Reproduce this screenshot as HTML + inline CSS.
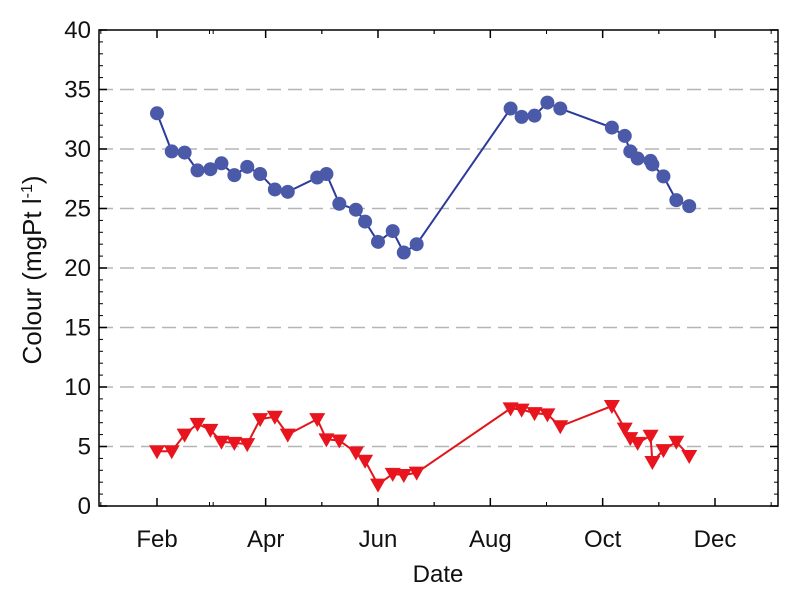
<!DOCTYPE html>
<html><head><meta charset="utf-8"><style>
body{margin:0;background:#fff;}
svg text{font-family:"Liberation Sans",Arial,sans-serif;fill:#111;}
</style></head><body>
<svg id="chart" width="801" height="600">
<g id="grid"></g><g id="axes"></g><g id="series"></g>
</svg>
<script>
const dates=[32,40,47,54,61,67,74,81,88,96,103,119,124,131,140,145,152,160,166,173,224,230,237,244,251,279,286,289,293,300,301,307,314,321];
const blueValues=[33.0,29.8,29.7,28.2,28.3,28.8,27.8,28.5,27.9,26.6,26.4,27.6,27.9,25.4,24.9,23.9,22.2,23.1,21.3,22.0,33.4,32.7,32.8,33.9,33.4,31.8,31.1,29.8,29.2,29.0,28.7,27.7,25.7,25.2];
const redValues=[4.6,4.6,6.0,6.9,6.4,5.4,5.3,5.2,7.3,7.5,6.0,7.3,5.6,5.5,4.5,3.8,1.8,2.7,2.6,2.8,8.2,8.1,7.8,7.7,6.7,8.4,6.5,5.7,5.3,5.9,3.7,4.7,5.4,4.2];
const monthLabels=["Feb","Apr","Jun","Aug","Oct","Dec"];
const monthDays=[32,91,152,213,274,335];
const yTicks=[0,5,10,15,20,25,30,35,40];

const L=99,R=778,T=30,B=506;
const X=d=>157+(d-32)*558/303;
const Y=v=>B-(v/40)*(B-T);
const NS="http://www.w3.org/2000/svg";
function mk(tag,attrs,parent){const e=document.createElementNS(NS,tag);for(const k in attrs)e.setAttribute(k,attrs[k]);parent.appendChild(e);return e;}
const grid=document.getElementById('grid'),axes=document.getElementById('axes'),series=document.getElementById('series');

yTicks.forEach(v=>{
  if(v>0&&v<40){const g=mk('line',{x1:L,x2:R,y1:Y(v),y2:Y(v),stroke:'#b5b5b5','stroke-width':1.5,'stroke-dasharray':'14,7'},grid);
  
  }
  const t=mk('text',{x:L-8,y:Y(v)+8,'text-anchor':'end','font-size':24},axes);t.textContent=v;
  
  
  mk('line',{x1:L,x2:L+8,y1:Y(v),y2:Y(v),stroke:'#000','stroke-width':1.5},axes);
  mk('line',{x1:R,x2:R-8,y1:Y(v),y2:Y(v),stroke:'#000','stroke-width':1.5},axes);
});
for(let v=0;v<=40;v++){ if(v%5===0)continue;
  mk('line',{x1:L,x2:L+4,y1:Y(v),y2:Y(v),stroke:'#000','stroke-width':1},axes);
  mk('line',{x1:R,x2:R-4,y1:Y(v),y2:Y(v),stroke:'#000','stroke-width':1},axes);}
monthDays.forEach((d,i)=>{
  const x=X(d);
  mk('line',{x1:x,x2:x,y1:B,y2:B-8,stroke:'#000','stroke-width':1.5},axes);
  mk('line',{x1:x,x2:x,y1:T,y2:T+8,stroke:'#000','stroke-width':1.5},axes);
  const t=mk('text',{x:x,y:B+41,'text-anchor':'middle','font-size':24},axes);t.textContent=monthLabels[i];
  
  
  [-1,1].forEach(s=>{const xm=X(d+s*30.5);if(xm>L&&xm<R){
    mk('line',{x1:xm,x2:xm,y1:B,y2:B-4,stroke:'#000','stroke-width':1},axes);
    mk('line',{x1:xm,x2:xm,y1:T,y2:T+4,stroke:'#000','stroke-width':1},axes);}});
});
const fr=mk('rect',{x:L,y:T,width:R-L,height:B-T,fill:'none',stroke:'#000','stroke-width':1.5},axes);



function drawSeries(vals,lineCol,fillCol,shape,name){
  const pts=dates.map((d,i)=>X(d)+','+Y(vals[i])).join(' ');
  const pl=mk('polyline',{points:pts,fill:'none',stroke:lineCol,'stroke-width':2},series);
  
  
  dates.forEach((d,i)=>{
    const x=X(d),y=Y(vals[i]);let m;
    if(shape==='circle')m=mk('circle',{cx:x,cy:y,r:7,fill:fillCol},series);
    else m=mk('polygon',{points:`${x-8},${y-6} ${x+8},${y-6} ${x},${y+8}`,fill:fillCol},series);
    
    
  });
}
drawSeries(blueValues,'#2b3a9c','#4b5aa8','circle','colour-series-blue');
drawSeries(redValues,'#e0161c','#e8141e','tri','colour-series-red');
</script>
<svg style="position:absolute;left:0;top:0" width="801" height="600">
<text x="438" y="582" text-anchor="middle" font-size="24">Date</text>
<text transform="translate(41,270) rotate(-90)" text-anchor="middle" font-size="26">Colour (mgPt l<tspan dy="-9" font-size="16">-1</tspan><tspan dy="9">)</tspan></text>
</svg>
</body></html>
